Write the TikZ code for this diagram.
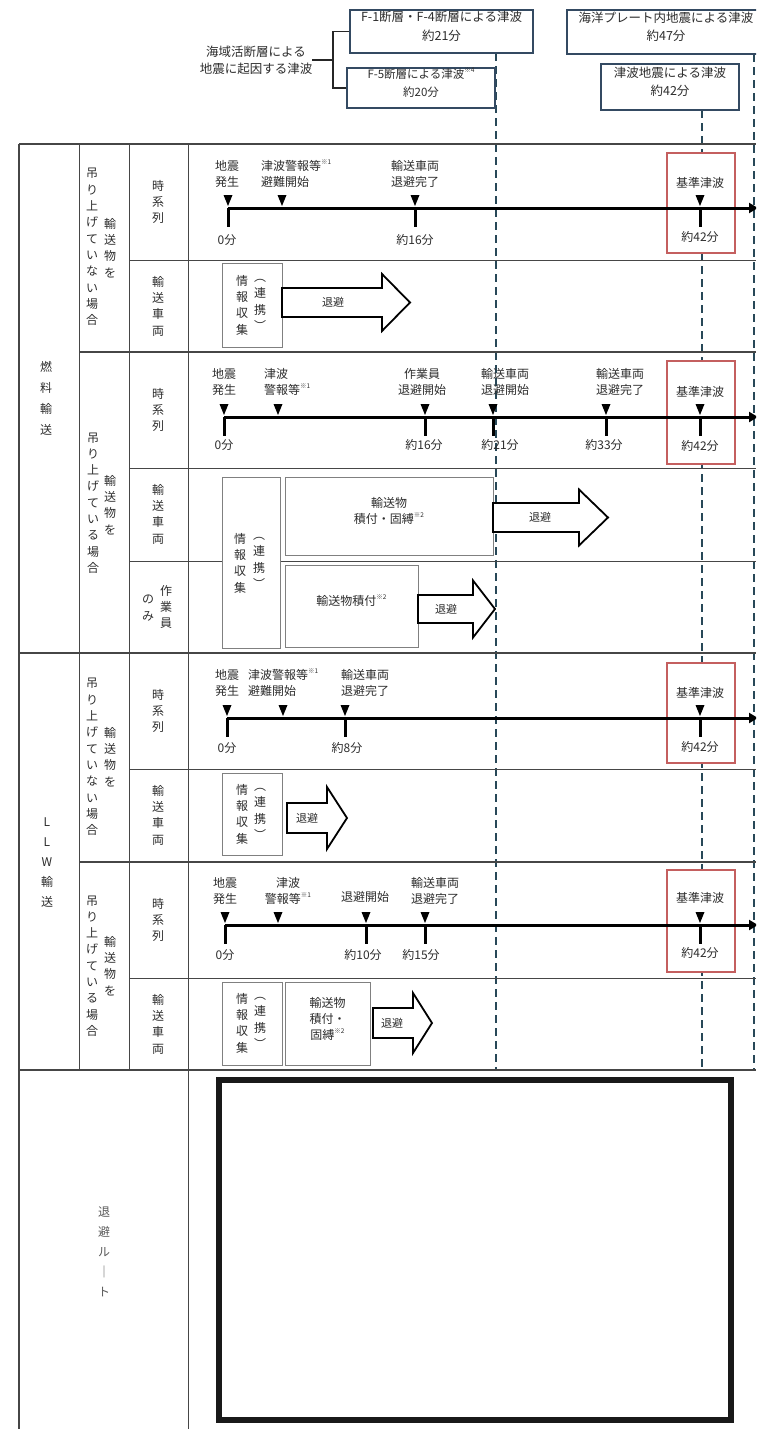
\documentclass[tikz,border=0pt]{standalone}
\usepackage{fontspec}
\setmainfont{Noto Sans CJK JP}
\usetikzlibrary{fit,arrows.meta}
\definecolor{hdrc}{RGB}{52,74,98}
\definecolor{dashc}{RGB}{40,72,88}
\definecolor{redc}{RGB}{196,95,95}
\definecolor{txtc}{RGB}{45,45,45}
\definecolor{linec}{RGB}{70,70,70}
\newcommand\nt[1]{\raisebox{0.5em}{\fontsize{6.5}{6.5}\selectfont #1}}
\newcommand\mk[2]{\fill[black] (#1-4.5,#2-13) -- (#1+4.5,#2-13) -- (#1,#2-2) -- cycle;}
\newcommand\tk[2]{\draw[line width=3pt] (#1,#2) -- (#1,#2+19);}
\newcommand\barrow[6]{\draw[barr] (#1,#4-#5) -- (#2,#4-#5) -- (#2,#4-#6) -- (#3,#4) -- (#2,#4+#6) -- (#2,#4+#5) -- (#1,#4+#5) -- cycle;}
\begin{document}
\begin{tikzpicture}[x=1pt,y=-1pt,
  tbl/.style={line width=0.9pt,draw=linec},
  tblt/.style={line width=1.8pt,draw=linec},
  dashl/.style={line width=2pt,draw=dashc,dash pattern=on 8pt off 5pt},
  hdrbox/.style={draw=hdrc,line width=1.6pt,fill=white,inner sep=0pt,align=center,text=txtc,font=\fontsize{12.5}{18.5}\selectfont},
  ibox/.style={draw=black!50,line width=0.9pt,fill=white,inner sep=0pt,align=center,text=txtc,font=\fontsize{12}{16}\selectfont},
  redbox/.style={draw=redc,line width=1.4pt,fill=white,inner sep=0pt},
  tline/.style={line width=3pt,-{Triangle[length=9pt,width=10pt]}},
  lbl/.style={inner sep=0pt,align=center,text=txtc,font=\fontsize{12}{16}\selectfont},
  lbll/.style={lbl,align=left,anchor=west},
  vt/.style={inner sep=0pt,align=center,text=txtc,font=\fontsize{12}{16.3}\selectfont},
  barr/.style={line width=1.8pt,draw=black,fill=white},
  brk/.style={line width=1.3pt,draw=black!85},
  bigbox/.style={line width=6pt,draw=black!90}]
\useasboundingbox (0,0) rectangle (756,1429);
\clip (0,0) rectangle (756,1429);

% ---------------- guide (dashed) lines
\coordinate (d1t) at (496,53);  \coordinate (d1b) at (496,1070);
\coordinate (d2t) at (702,110); \coordinate (d2b) at (702,1070);
\coordinate (d3t) at (754,54);  \coordinate (d3b) at (754,1070);
\draw[dashl] (d1t) -- (d1b);
\draw[dashl] (d2t) -- (d2b);
\draw[dashl] (d3t) -- (d3b);

% ---------------- table grid
\draw[tblt] (19,144) -- (756,144);
\draw[tblt] (19,144) -- (19,1429);
\draw[tbl] (79,144) -- (79,1070);
\draw[tbl] (129,144) -- (129,1070);
\draw[tbl] (188,144) -- (188,1429);
\foreach \yy in {260,468,561,769,978} {\draw[tbl] (129,\yy) -- (756,\yy);}
\foreach \yy in {352,862} {\draw[tblt] (79,\yy) -- (756,\yy);}
\foreach \yy in {653,1070} {\draw[tblt] (19,\yy) -- (756,\yy);}

% ---------------- header
\node[hdrbox,fit={(350,10) (533,53)}] (f14) {F-1断層・F-4断層による津波\\約21分};
\node[hdrbox,fit={(347,68) (495,108)},font=\fontsize{11.5}{18}\selectfont] (f5) {F-5断層による津波\nt{※4}\\約20分};
\node[hdrbox,fit={(567,10) (765,54)}] (pl) {海洋プレート内地震による津波\\約47分};
\node[hdrbox,fit={(601,64) (739,110)}] (tj) {津波地震による津波\\約42分};
\node[lbl,font=\fontsize{12.5}{17}\selectfont] (eq) at (256,60) {海域活断層による\\地震に起因する津波};
\coordinate (br) at (333,60);
\draw[brk] (eq.east) -- (br);
\draw[brk] (f14.west) -| (br) |- (f5.west);

% ---------------- left column texts
\node[vt,font=\fontsize{12}{21}\selectfont] (nen) at (46,398) {燃\\料\\輸\\送};
\node[vt,font=\fontsize{12}{20}\selectfont] (llw) at (47,863) {L\\L\\W\\輸\\送};
\node[vt] (a1) at (110,248) {輸\\送\\物\\を};
\node[vt] (b1) at (92,247) {吊\\り\\上\\げ\\て\\い\\な\\い\\場\\合};
\node[vt] (a2) at (110,505) {輸\\送\\物\\を};
\node[vt] (b2) at (93,503) {吊\\り\\上\\げ\\て\\い\\る\\場\\合};
\node[vt] (a3) at (110,757) {輸\\送\\物\\を};
\node[vt] (b3) at (92,757) {吊\\り\\上\\げ\\て\\い\\な\\い\\場\\合};
\node[vt] (a4) at (110,966) {輸\\送\\物\\を};
\node[vt] (b4) at (92,966) {吊\\り\\上\\げ\\て\\い\\る\\場\\合};
\node[vt] (c1) at (158,202) {時\\系\\列};
\node[vt] (c2) at (158,306) {輸\\送\\車\\両};
\node[vt] (c3) at (158,410) {時\\系\\列};
\node[vt] (c4) at (158,514) {輸\\送\\車\\両};
\node[vt] (c5a) at (166,607) {作\\業\\員};
\node[vt] (c5b) at (148,608) {の\\み};
\node[vt] (c6) at (158,711) {時\\系\\列};
\node[vt] (c7) at (158,815) {輸\\送\\車\\両};
\node[vt] (c8) at (158,920) {時\\系\\列};
\node[vt] (c9) at (158,1024) {輸\\送\\車\\両};
\node[vt,font=\fontsize{12}{20}\selectfont,text=black!65] (route) at (104,1252) {退\\避\\ル\\｜\\ト};

% ---------------- red boxes (reference tsunami)
\node[redbox,fit={(667,153) (735,253)}] (rb1) {};
\node[redbox,fit={(667,361) (735,464)}] (rb2) {};
\node[redbox,fit={(667,663) (735,763)}] (rb3) {};
\node[redbox,fit={(667,870) (735,972)}] (rb4) {};

% ---------------- row 1 timeline
\coordinate (t1s) at (228,208); \coordinate (t1e) at (758,208);
\draw[tline] (t1s) -- (t1e);
\mk{228}{208}\tk{228}{208}
\mk{282}{208}
\mk{415}{208}\tk{415}{208}
\mk{700}{208}\tk{700}{208}
\node[lbl] (e11) at (227,174) {地震\\発生};
\node[lbll] (e12) at (261,174) {津波警報等\nt{※1}\\避難開始};
\node[lbl] (e13) at (415,174) {輸送車両\\退避完了};
\node[lbl] (e14) at (700,183) {基準津波};
\node[lbl] (m11) at (227,240) {0分};
\node[lbl] (m12) at (415,240) {約16分};
\node[lbl] (m13) at (700,237) {約42分};

% ---------------- row 2
\node[ibox,fit={(222,263) (282,347)}] (i2) {};
\node[vt] (i2a) at (242,305) {情\\報\\収\\集};
\node[vt] (i2b) at (260,305) {︵\\連\\携\\︶};
\barrow{282}{382}{410}{302.5}{14.5}{28.5}
\node[lbl,font=\fontsize{11}{13}\selectfont] (r2) at (333,302.5) {退避};

% ---------------- row 3 timeline
\coordinate (t3s) at (224,417); \coordinate (t3e) at (758,417);
\draw[tline] (t3s) -- (t3e);
\mk{224}{417}\tk{224}{417}
\mk{278}{417}
\mk{425}{417}\tk{425}{417}
\mk{493}{417}\tk{493}{417}
\mk{606}{417}\tk{606}{417}
\mk{700}{417}\tk{700}{417}
\node[lbl] (e31) at (224,382) {地震\\発生};
\node[lbll] (e32) at (264,382) {津波\\警報等\nt{※1}};
\node[lbl] (e33) at (422,382) {作業員\\退避開始};
\node[lbl] (e34) at (505,382) {輸送車両\\退避開始};
\node[lbl] (e35) at (620,382) {輸送車両\\退避完了};
\node[lbl] (e36) at (700,392) {基準津波};
\node[lbl] (m31) at (224,445) {0分};
\node[lbl] (m32) at (424,445) {約16分};
\node[lbl] (m33) at (500,445) {約21分};
\node[lbl] (m34) at (604,445) {約33分};
\node[lbl] (m35) at (700,446) {約42分};

% ---------------- rows 4-5
\node[ibox,fit={(222,477) (280,648)}] (i4) {};
\node[vt] (i4a) at (240,563) {情\\報\\収\\集};
\node[vt] (i4b) at (259,563) {︵\\連\\携\\︶};
\node[ibox,fit={(285,477) (493,555)}] (k4) {輸送物\\積付・固縛\nt{※2}};
\barrow{493}{579}{608}{517.5}{14.5}{28}
\node[lbl,font=\fontsize{11}{13}\selectfont] (r4) at (540,517.5) {退避};
\node[ibox,fit={(285,565) (418,647)}] (k5) {輸送物積付\nt{※2}};
\barrow{418}{473}{495}{609}{14}{28.5}
\node[lbl,font=\fontsize{11}{13}\selectfont] (r5) at (446,609) {退避};

% ---------------- row 6 timeline (LLW)
\coordinate (t6s) at (227,718); \coordinate (t6e) at (758,718);
\draw[tline] (t6s) -- (t6e);
\mk{227}{718}\tk{227}{718}
\mk{283}{718}
\mk{345}{718}\tk{345}{718}
\mk{700}{718}\tk{700}{718}
\node[lbl] (e61) at (227,683) {地震\\発生};
\node[lbll] (e62) at (248,683) {津波警報等\nt{※1}\\避難開始};
\node[lbll] (e63) at (341,683) {輸送車両\\退避完了};
\node[lbl] (e64) at (700,693) {基準津波};
\node[lbl] (m61) at (227,748) {0分};
\node[lbl] (m62) at (347,748) {約8分};
\node[lbl] (m63) at (700,747) {約42分};

% ---------------- row 7
\node[ibox,fit={(222,773) (282,855)}] (i7) {};
\node[vt] (i7a) at (242,814) {情\\報\\収\\集};
\node[vt] (i7b) at (260,814) {︵\\連\\携\\︶};
\barrow{287}{327}{347}{818}{15}{31}
\node[lbl,font=\fontsize{11}{13}\selectfont] (r7) at (307,818) {退避};

% ---------------- row 8 timeline
\coordinate (t8s) at (225,925); \coordinate (t8e) at (758,925);
\draw[tline] (t8s) -- (t8e);
\mk{225}{925}\tk{225}{925}
\mk{278}{925}
\mk{366}{925}\tk{366}{925}
\mk{425}{925}\tk{425}{925}
\mk{700}{925}\tk{700}{925}
\node[lbl] (e81) at (225,891) {地震\\発生};
\node[lbl] (e82) at (288,891) {津波\\警報等\nt{※1}};
\node[lbl] (e83) at (365,897) {退避開始};
\node[lbl] (e84) at (435,891) {輸送車両\\退避完了};
\node[lbl] (e85) at (700,898) {基準津波};
\node[lbl] (m81) at (225,955) {0分};
\node[lbl] (m82) at (363,955) {約10分};
\node[lbl] (m83) at (421,955) {約15分};
\node[lbl] (m84) at (700,953) {約42分};

% ---------------- row 9
\node[ibox,fit={(222,982) (282,1065)}] (i9) {};
\node[vt] (i9a) at (242,1023) {情\\報\\収\\集};
\node[vt] (i9b) at (260,1023) {︵\\連\\携\\︶};
\node[ibox,fit={(285,982) (370,1065)}] (k9) {輸送物\\積付・\\固縛\nt{※2}};
\barrow{373}{413}{432}{1023}{15}{30}
\node[lbl,font=\fontsize{11}{13}\selectfont] (r9) at (392,1023) {退避};

% ---------------- evacuation route frame
\node[bigbox,fit={(219,1080) (731,1420)},inner sep=0pt] (map) {};
\end{tikzpicture}
\end{document}
